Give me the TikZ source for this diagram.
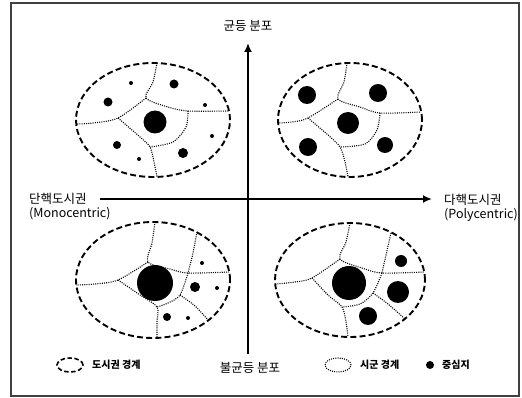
\documentclass[tikz,border=0pt]{standalone}
\usepackage{fontspec}
\setmainfont{Noto Sans CJK KR}
\usetikzlibrary{arrows.meta}

\begin{document}
\begin{tikzpicture}[
    x=1pt, y=-1pt,
    frame/.style = {draw=black!75,line width=1.2pt},
    urban/.style = {line width=1.9pt,dash pattern=on 6pt off 3.2pt},
    sigun/.style = {line width=1.1pt,dash pattern=on 1pt off 1.2pt},
    hub/.style   = {fill=black},
    axis/.style  = {line width=1.8pt,-{Latex[length=9pt,width=8pt]}},
    lbl/.style   = {font=\fontsize{12.5}{15}\selectfont,inner sep=0pt},
    key/.style   = {font=\fontsize{10}{12}\selectfont\bfseries,anchor=west,inner sep=0pt}
  ]

  \useasboundingbox (0,0) rectangle (522,398);
  \draw[frame] (11,3) rectangle (519,396);

  % axes
  \coordinate (ybot)  at (248,354);
  \coordinate (ytop)  at (248,43);
  \coordinate (xleft) at (100,199);
  \coordinate (xright) at (432,199);
  \draw[axis] (ybot) -- (ytop);
  \draw[axis] (xleft) -- (xright);

  \node[lbl] (even)   at (248,26)  {균등 분포};
  \node[lbl] (uneven) at (250,368) {불균등 분포};
  \node[lbl,anchor=west] (mono)   at (29,199) {단핵도시권};
  \node[lbl,anchor=west] (monoen) at (29,214) {(Monocentric)};
  \node[lbl,anchor=west] (poly)   at (444,200) {다핵도시권};
  \node[lbl,anchor=west] (polyen) at (444,215) {(Polycentric)};

  % top left
  \draw[sigun] plot[smooth] coordinates {(157,63) (153,82) (146,98) (168,107) (188,111) (229,111)};
  \draw[sigun] plot[smooth] coordinates {(188,111) (186,127) (173,142) (150,147)};
  \draw[sigun] plot[smooth] coordinates {(146,98) (118,118) (93,123) (76,124)};
  \draw[sigun] plot[smooth] coordinates {(118,118) (140,137) (150,147) (154,162) (157,177)};
  \draw[urban] (153,120) ellipse[x radius=77pt,y radius=57pt];
  \foreach \px/\py/\r in {155/122/11.5, 131/83/2, 174/84/4.5, 108/102/4.5, 205/105/2,
                          212/136/2, 117/145/4, 183/153/5, 139/159/2}
    \fill[hub] (\px,\py) circle[radius=\r pt];

  % top right
  \draw[sigun] plot[smooth] coordinates {(347,63) (344,82) (338,99) (360,107) (380,113) (421,112)};
  \draw[sigun] plot[smooth] coordinates {(380,113) (377,130) (365,144) (340,147)};
  \draw[sigun] plot[smooth] coordinates {(338,99) (308,118) (292,122) (278,123)};
  \draw[sigun] plot[smooth] coordinates {(308,118) (328,135) (340,147) (345,162) (348,177)};
  \draw[urban] (350,120) ellipse[x radius=72pt,y radius=57pt];
  \foreach \px/\py/\r in {348/123/11, 307/95/9, 378/93/9, 308/147/9, 385/145/8}
    \fill[hub] (\px,\py) circle[radius=\r pt];

  % bottom left
  \draw[sigun] plot[smooth] coordinates {(155,222) (152,243) (148,262) (170,269) (188,273) (229,272)};
  \draw[sigun] plot[smooth] coordinates {(197,232) (193,253) (188,273)};
  \draw[sigun] plot[smooth] coordinates {(188,273) (180,295) (168,303) (157,307)};
  \draw[sigun] plot[smooth] coordinates {(180,295) (195,306) (208,320)};
  \draw[sigun] plot[smooth] coordinates {(148,262) (118,280) (95,284) (76,285)};
  \draw[sigun] plot[smooth] coordinates {(118,280) (140,295) (157,307) (157,322) (157,338)};
  \draw[urban] (153,280) ellipse[x radius=77pt,y radius=58pt];
  \foreach \px/\py/\r in {155/283/18, 195/287/5, 217/288/2, 202/263/2, 167/317/4, 188/318/2}
    \fill[hub] (\px,\py) circle[radius=\r pt];

  % bottom right
  \draw[sigun] plot[smooth] coordinates {(350,223) (346,242) (340,259) (362,268) (382,273) (424,272)};
  \draw[sigun] plot[smooth] coordinates {(391,233) (386,255) (382,273)};
  \draw[sigun] plot[smooth] coordinates {(382,273) (373,293) (360,304) (342,307)};
  \draw[sigun] plot[smooth] coordinates {(373,293) (388,304) (405,319)};
  \draw[sigun] plot[smooth] coordinates {(340,259) (312,278) (295,282) (276,284)};
  \draw[sigun] plot[smooth] coordinates {(312,278) (328,295) (342,307) (346,322) (348,337)};
  \draw[urban] (350,280) ellipse[x radius=75pt,y radius=57pt];
  \foreach \px/\py/\r in {349/283/17, 401/261/6, 398/292/11, 368/316/9}
    \fill[hub] (\px,\py) circle[radius=\r pt];

  % legend
  \draw[urban,line width=1.6pt,dash pattern=on 4.5pt off 2.5pt] (70,365) ellipse[x radius=13pt,y radius=7pt];
  \node[key] (kurban) at (92,365) {도시권 경계};
  \draw[sigun] (338,365) ellipse[x radius=13pt,y radius=7pt];
  \node[key] (ksigun) at (360,365) {시군 경계};
  \fill[hub] (430,365) circle[radius=4pt];
  \node[key] (khub) at (442,365) {중심지};

\end{tikzpicture}
\end{document}
